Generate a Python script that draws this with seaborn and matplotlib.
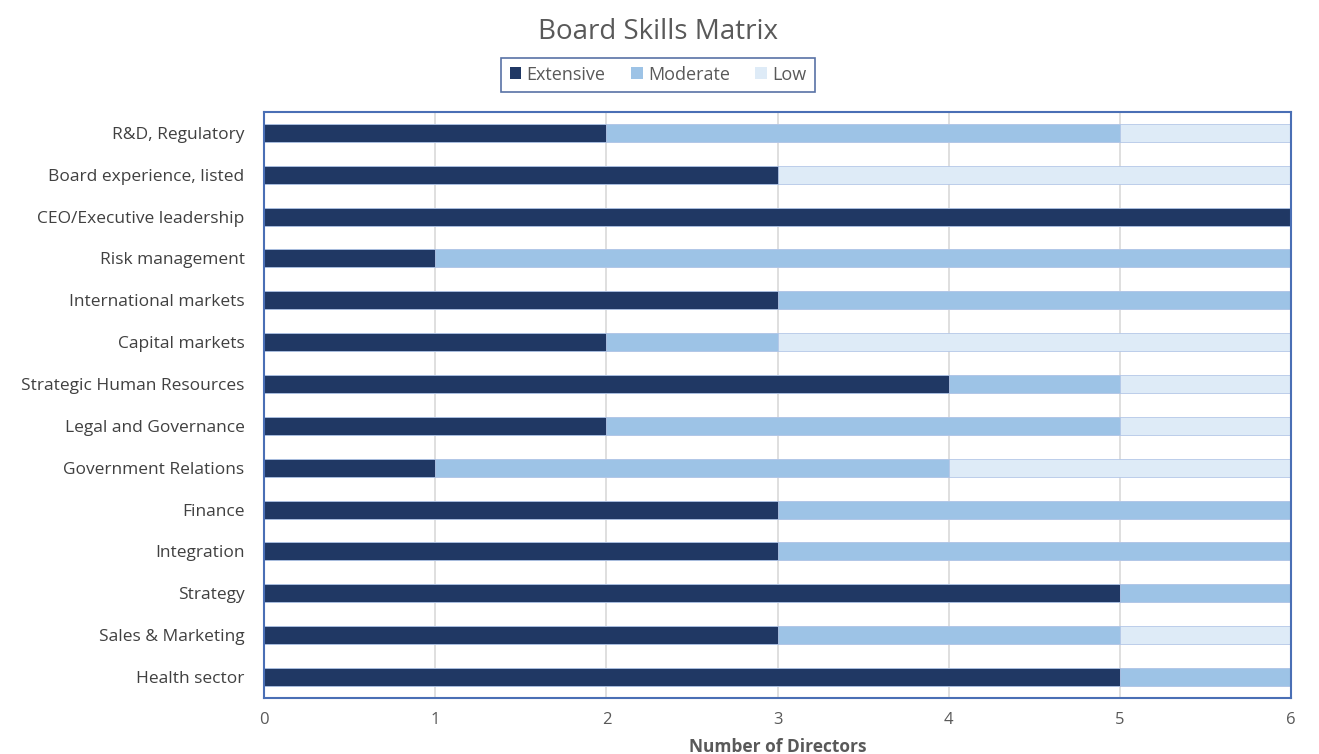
import matplotlib
matplotlib.use("Agg")
import matplotlib.pyplot as plt
import seaborn as sns
import pandas as pd
import numpy as np
from matplotlib.patches import Patch

skills = ["R&D, Regulatory", "Board experience, listed", "CEO/Executive leadership",
          "Risk management", "International markets", "Capital markets",
          "Strategic Human Resources", "Legal and Governance", "Government Relations",
          "Finance", "Integration", "Strategy", "Sales & Marketing", "Health sector"]
extensive = [2, 3, 6, 1, 3, 2, 4, 2, 1, 3, 3, 5, 3, 5]
moderate = [3, 0, 0, 5, 3, 1, 1, 3, 3, 3, 3, 1, 2, 1]
low = [1, 3, 0, 0, 0, 3, 1, 1, 2, 0, 0, 0, 1, 0]
series_names = ["Extensive", "Moderate", "Low"]
colors = ["#203864", "#9DC3E6", "#DEEBF7"]

sns.set_theme(style="white")
plt.rcParams['font.family'] = ['Open Sans', 'DejaVu Sans']

df = pd.DataFrame({"skill": skills, "Extensive": extensive,
                   "Moderate": moderate, "Low": low})
df["c1"] = df["Extensive"]
df["c2"] = df["Extensive"] + df["Moderate"]
df["c3"] = df["c2"] + df["Low"]

fig = plt.figure(figsize=(13.19, 7.54), dpi=100)
ax = fig.add_axes([0.2002, 0.0743, 0.7786, 0.7772])

for col, c in zip(["c3", "c2", "c1"], colors[::-1]):
    sns.barplot(data=df, x=col, y="skill", orient="h", color=c, ax=ax,
                width=0.43, edgecolor="#B4C7E7", linewidth=0.6, saturation=1)

ax.set_xlim(0, 6)
ax.set_xticks(range(0, 7))
ax.set_ylabel("")
ax.set_xlabel("Number of Directors", fontsize=12.5, fontweight="bold", color="#595959", labelpad=7)
ax.tick_params(axis="x", labelsize=12, colors="#595959", length=0, pad=10)
ax.tick_params(axis="y", labelsize=12.5, colors="#404040", length=0, pad=14)
ax.grid(axis="x", color="#D9D9D9", linewidth=1.2)
ax.set_axisbelow(True)
for s in ax.spines.values():
    s.set_color("#4A6FB5")
    s.set_linewidth(1.5)
    s.set_visible(True)

fig.text(0.4985, 0.958, "Board Skills Matrix", ha="center", va="center", fontsize=20, color="#595959")

handles = [Patch(facecolor=c, edgecolor="none") for c in colors]
leg = fig.legend(handles, series_names, loc="center", bbox_to_anchor=(0.499, 0.901),
                 ncol=3, fontsize=13, frameon=True, handlelength=0.65, handleheight=0.65,
                 handletextpad=0.3, columnspacing=1.4, borderpad=0.45, borderaxespad=0,
                 fancybox=False)
leg.get_frame().set_edgecolor("#2F4F8F")
leg.get_frame().set_linewidth(1.2)
for t in leg.get_texts():
    t.set_color("#595959")

fig.savefig("out.png", dpi=100)
